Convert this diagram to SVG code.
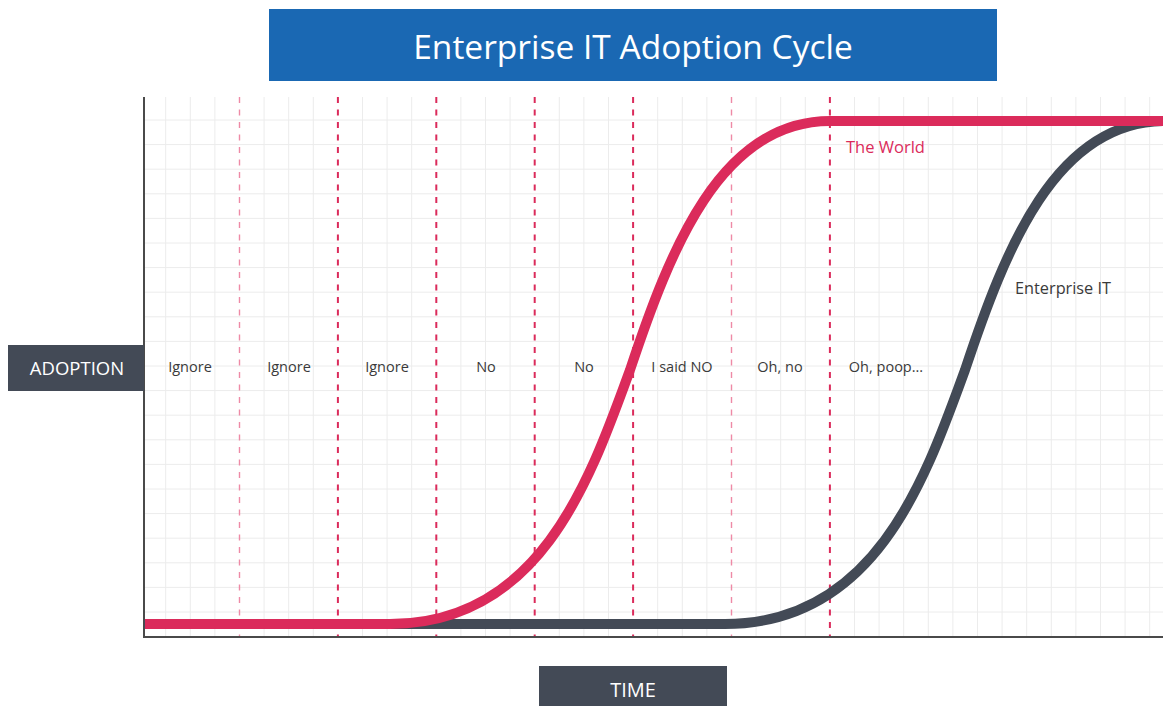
<svg xmlns="http://www.w3.org/2000/svg" width="1163" height="706" viewBox="0 0 1163 706">
<style>
.grid{stroke:#ececec;stroke-width:1;fill:none}
.dash{fill:none;stroke-dasharray:6 6.5}
.strong{stroke:#DB2B5B;stroke-width:2}
.light{stroke:#EE8AA6;stroke-width:1.4}
.lbl{font-family:"Open Sans","Noto Sans",sans-serif;font-size:14.5px;fill:#3a3a3a;text-anchor:middle}
.box{fill:#434A56}
.boxt{font-family:"Open Sans","Noto Sans",sans-serif;fill:#ffffff;text-anchor:middle}
.curve{fill:none;stroke-width:10;stroke-linecap:butt}
</style>
<rect width="1163" height="706" fill="#ffffff"/>
<g id="grid">
<path class="grid" d="M144 120H1163M144 144.6H1163M144 169.2H1163M144 193.8H1163M144 218.4H1163M144 243H1163M144 267.6H1163M144 292.2H1163M144 316.8H1163M144 341.4H1163M144 366H1163M144 390.6H1163M144 415.2H1163M144 439.8H1163M144 464.4H1163M144 489H1163M144 513.6H1163M144 538.2H1163M144 562.8H1163M144 587.4H1163M144 612H1163"/>
<path class="grid" d="M165.7 97V637M190.3 97V637M214.9 97V637M264.1 97V637M288.7 97V637M313.3 97V637M362.5 97V637M387.1 97V637M411.7 97V637M460.9 97V637M485.5 97V637M510.1 97V637M559.3 97V637M583.9 97V637M608.5 97V637M657.7 97V637M682.3 97V637M706.9 97V637M756.1 97V637M780.7 97V637M805.3 97V637M854.5 97V637M879.1 97V637M903.7 97V637M928.3 97V637M952.9 97V637M977.5 97V637M1002.1 97V637M1026.7 97V637M1051.3 97V637M1075.9 97V637M1100.5 97V637M1125.1 97V637M1149.7 97V637"/>
</g>
<g id="phase-lines">
<line class="dash light" x1="239.5" y1="97" x2="239.5" y2="637"/>
<line class="dash strong" x1="337.9" y1="97" x2="337.9" y2="637"/>
<line class="dash strong" x1="436.3" y1="97" x2="436.3" y2="637"/>
<line class="dash strong" x1="534.7" y1="97" x2="534.7" y2="637"/>
<line class="dash strong" x1="633.1" y1="97" x2="633.1" y2="637"/>
<line class="dash light" x1="731.5" y1="97" x2="731.5" y2="637"/>
<line class="dash strong" x1="829.9" y1="97" x2="829.9" y2="637"/>
</g>
<g id="axes" stroke="#4a4a4a" stroke-width="2">
<line x1="144" y1="97" x2="144" y2="638"/>
<line x1="143" y1="637" x2="1163" y2="637"/>
</g>
<g id="connectors">
<path id="enterprise-curve" class="curve" stroke="#434A56" d="M144 624H725C875 624 925 480 965 370C1005 250 1055 121 1165 121"/>
<path id="world-curve" class="curve" stroke="#DB2B5B" d="M145 624H390C540 624 590 480 630 370C670 250 720 121 830 121H1163"/>
</g>
<g id="title">
<rect x="269" y="9" width="728" height="72" fill="#1A68B3"/>
<text x="633" y="59" font-family="'Open Sans','Noto Sans',sans-serif" font-size="33.5" fill="#ffffff" text-anchor="middle">Enterprise IT Adoption Cycle</text>
</g>
<g id="adoption">
<rect class="box" x="8" y="345" width="136" height="46"/>
<text class="boxt" x="77" y="375" font-size="18.5">ADOPTION</text>
</g>
<g id="time">
<rect class="box" x="539" y="666" width="188" height="40"/>
<text class="boxt" x="633" y="697" font-size="20">TIME</text>
</g>
<g id="phase-labels">
<text class="lbl" x="190" y="372">Ignore</text>
<text class="lbl" x="289" y="372">Ignore</text>
<text class="lbl" x="387" y="372">Ignore</text>
<text class="lbl" x="486" y="372">No</text>
<text class="lbl" x="584" y="372">No</text>
<text class="lbl" x="682" y="372">I said NO</text>
<text class="lbl" x="780" y="372">Oh, no</text>
<text class="lbl" x="886" y="372">Oh, poop...</text>
</g>
<g id="curve-labels">
<text x="846" y="153" font-family="'Open Sans','Noto Sans',sans-serif" font-size="16.5" fill="#DB2B5B">The World</text>
<text x="1015" y="294" font-family="'Open Sans','Noto Sans',sans-serif" font-size="16.3" fill="#3a3a3a">Enterprise IT</text>
</g>
</svg>
